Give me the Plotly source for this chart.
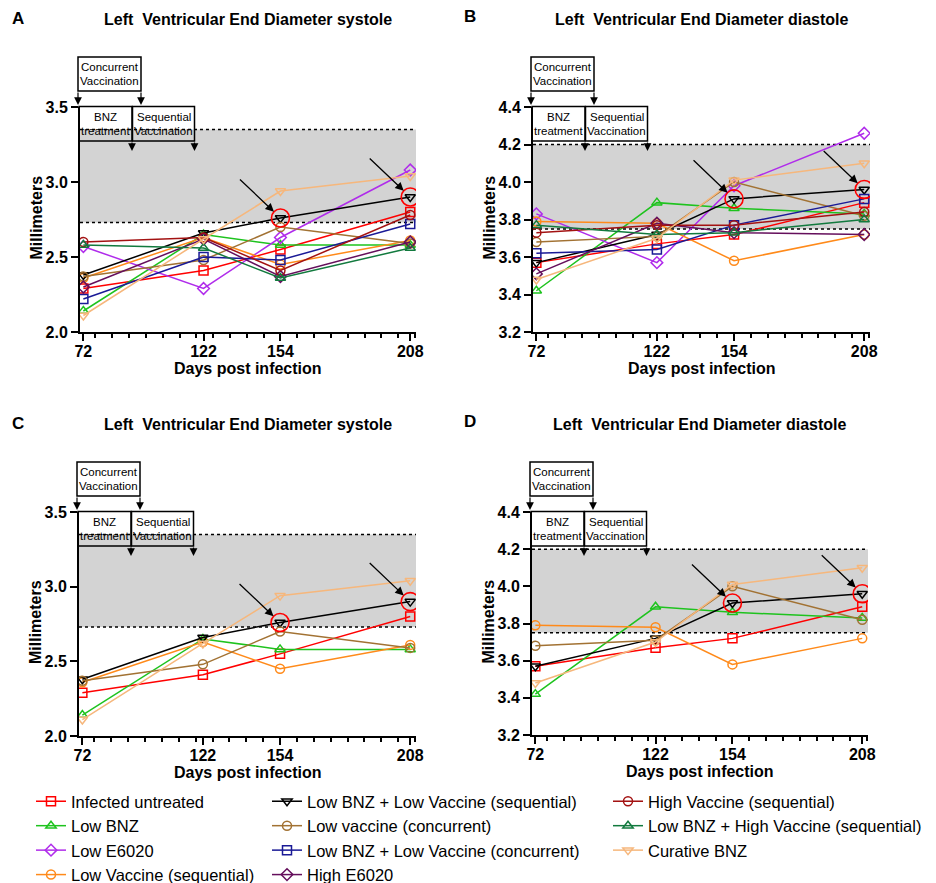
import plotly.graph_objects as go

# ---------------- data ----------------
days = [72, 122, 154, 208]
day_labels = ["72", "122", "154", "208"]

groups = ["Infected untreated", "Low BNZ", "Low E6020", "Low Vaccine (sequential)",
          "Low BNZ + Low Vaccine (sequential)", "Low vaccine (concurrent)",
          "Low BNZ + Low Vaccine (concurrent)", "High E6020",
          "High Vaccine (sequential)", "Low BNZ + High Vaccine (sequential)", "Curative BNZ"]

# Left ventricular end diameter, systole (mm)
sys_infected = [2.29, 2.41, 2.55, 2.80]
sys_low_bnz = [2.14, 2.65, 2.58, 2.58]
sys_low_e6020 = [2.57, 2.29, 2.63, 3.08]
sys_low_vac_seq = [2.36, 2.63, 2.45, 2.61]
sys_bnz_lowvac_seq = [2.38, 2.66, 2.76, 2.90]
sys_low_vac_conc = [2.37, 2.48, 2.70, 2.59]
sys_bnz_lowvac_conc = [2.22, 2.50, 2.48, 2.72]
sys_high_e6020 = [2.30, 2.62, 2.37, 2.60]
sys_high_vac_seq = [2.60, 2.63, 2.41, 2.78]
sys_bnz_highvac_seq = [2.58, 2.56, 2.36, 2.56]
sys_curative = [2.11, 2.62, 2.94, 3.04]

# Left ventricular end diameter, diastole (mm)
dia_infected = [3.57, 3.67, 3.72, 3.89]
dia_low_bnz = [3.42, 3.89, 3.86, 3.83]
dia_low_e6020 = [3.83, 3.57, 3.98, 4.26]
dia_low_vac_seq = [3.79, 3.78, 3.58, 3.72]
dia_bnz_lowvac_seq = [3.57, 3.72, 3.91, 3.96]
dia_low_vac_conc = [3.68, 3.71, 4.00, 3.82]
dia_bnz_lowvac_conc = [3.62, 3.64, 3.77, 3.91]
dia_high_e6020 = [3.51, 3.78, 3.73, 3.72]
dia_high_vac_seq = [3.73, 3.77, 3.77, 3.84]
dia_bnz_highvac_seq = [3.77, 3.72, 3.73, 3.80]
dia_curative = [3.48, 3.70, 4.01, 4.10]

sys_normal = [2.73, 3.35]
dia_normal = [3.75, 4.20]

sys_ticks = [2.0, 2.5, 3.0, 3.5]
dia_ticks = [3.2, 3.4, 3.6, 3.8, 4.0, 4.2, 4.4]

systole = [sys_infected, sys_low_bnz, sys_low_e6020, sys_low_vac_seq, sys_bnz_lowvac_seq,
           sys_low_vac_conc, sys_bnz_lowvac_conc, sys_high_e6020, sys_high_vac_seq,
           sys_bnz_highvac_seq, sys_curative]
diastole = [dia_infected, dia_low_bnz, dia_low_e6020, dia_low_vac_seq, dia_bnz_lowvac_seq,
            dia_low_vac_conc, dia_bnz_lowvac_conc, dia_high_e6020, dia_high_vac_seq,
            dia_bnz_highvac_seq, dia_curative]

subset = [0, 1, 3, 4, 5, 10]      # groups shown in panels C and D
highlight_group = 4               # circled group
highlight_idx = [2, 3]            # circled time points

# ---------------- style ----------------
colors = ["#FF0000", "#1EC31E", "#B02CEB", "#FF8A1A", "#000000", "#A27233",
          "#1A1A96", "#650F5C", "#A31212", "#127A3E", "#F6B77C"]
symbols = ["square-open", "triangle-up-open", "diamond-open", "circle-open",
           "triangle-down-open", "circle-open", "square-open", "diamond-open",
           "circle-open", "triangle-up-open", "triangle-down-open"]
legend_col = ["legend"] * 4 + ["legend2"] * 4 + ["legend3"] * 3

# page body keeps an 8px margin, so the figure is drawn 8px in from the window edge
OFF = 8
W, H = 936 - OFF, 883 - OFF
FONT = "Liberation Sans, Arial, sans-serif"


def px(x):
    return (x - OFF) / W


def py(y):
    return 1 - (y - OFF) / H


def label(x, y, text, size, bold=False, family=FONT, angle=0):
    return dict(x=px(x), y=py(y), xref="paper", yref="paper", text=text, showarrow=False,
                xanchor="center", yanchor="middle", textangle=angle,
                font=dict(family=family, size=size, color="black",
                          weight="bold" if bold else "normal"))


panels = [
    dict(letter="A", L=80, R=416, T=107, B=332, title="Left\u00a0 Ventricular End Diameter systole",
         data=systole, groups=list(range(11)), rng=[2.0, 3.5], ticks=sys_ticks, band=sys_normal,
         letter_xy=(18, 18), title_y=20),
    dict(letter="B", L=533, R=870, T=107, B=332, title="Left\u00a0 Ventricular End Diameter diastole",
         data=diastole, groups=list(range(11)), rng=[3.2, 4.4], ticks=dia_ticks, band=dia_normal,
         letter_xy=(470, 17), title_y=20),
    dict(letter="C", L=79, R=416, T=512, B=736, title="Left\u00a0 Ventricular End Diameter systole",
         data=systole, groups=subset, rng=[2.0, 3.5], ticks=sys_ticks, band=sys_normal,
         letter_xy=(18, 423), title_y=424),
    dict(letter="D", L=532, R=868, T=512, B=735, title="Left\u00a0 Ventricular End Diameter diastole",
         data=diastole, groups=subset, rng=[3.2, 4.4], ticks=dia_ticks, band=dia_normal,
         letter_xy=(470, 422), title_y=424),
]

fig = go.Figure()
annotations = []
shapes = []

for p_i, p in enumerate(panels):
    n = "" if p_i == 0 else str(p_i + 1)
    xa, ya = "x" + n, "y" + n
    # traces
    for g in p["groups"]:
        fig.add_trace(go.Scatter(
            x=days, y=p["data"][g], name=groups[g], mode="lines+markers",
            xaxis=xa, yaxis=ya,
            line=dict(color=colors[g], width=1.5),
            marker=dict(symbol=symbols[g], size=9, color=colors[g], line=dict(width=1.5)),
            showlegend=(p_i == 0), legend=legend_col[g], legendrank=g,
            hoverinfo="skip"))
    hv = p["data"][highlight_group]
    fig.add_trace(go.Scatter(
        x=[days[i] for i in highlight_idx], y=[hv[i] for i in highlight_idx],
        mode="markers", xaxis=xa, yaxis=ya, showlegend=False, hoverinfo="skip",
        marker=dict(symbol="circle-open", size=18, color="#FF0000", line=dict(width=1.6))))
    for i in highlight_idx:
        annotations.append(dict(x=days[i], y=hv[i], xref=xa, yref=ya, text="", showarrow=True,
                                ax=-42, ay=-40, arrowhead=2, arrowsize=1.3, arrowwidth=1.3,
                                arrowcolor="black", standoff=9))

    # axes
    axis_common = dict(showline=True, linecolor="black", linewidth=2, ticks="outside",
                       tickcolor="black", tickwidth=2, ticklen=7, showgrid=False, zeroline=False,
                       tickfont=dict(family=FONT, size=16, color="black", weight="bold"))
    fig.layout["xaxis" + n] = dict(
        domain=[px(p["L"]), px(p["R"])], range=[70.6, 210.4], anchor=ya,
        tickmode="array", tickvals=days, ticktext=day_labels, ticklabelstandoff=-3,
        minor=dict(tickmode="linear", tick0=70, dtick=7, ticks="outside", ticklen=4,
                   tickwidth=1.5, tickcolor="black"),
        **axis_common)
    fig.layout["yaxis" + n] = dict(
        domain=[py(p["B"]), py(p["T"])], range=p["rng"], anchor=xa,
        tickmode="array", tickvals=p["ticks"], tickformat=".1f",
        **axis_common)

    # normal range band
    shapes.append(dict(type="rect", xref=xa + " domain", yref=ya, x0=0, x1=1,
                       y0=p["band"][0], y1=p["band"][1], fillcolor="#D3D3D3",
                       line=dict(width=0), layer="below"))
    for yv in p["band"]:
        shapes.append(dict(type="line", xref=xa + " domain", yref=ya, x0=0, x1=1,
                           y0=yv, y1=yv, line=dict(color="black", width=1.5, dash="dot"),
                           layer="below"))

    # panel letter, title, axis titles
    L, R, T, B = p["L"], p["R"], p["T"], p["B"]
    annotations.append(label(p["letter_xy"][0], p["letter_xy"][1], p["letter"], 17, bold=True))
    annotations.append(label((L + R) / 2, p["title_y"], p["title"], 16, bold=True))
    annotations.append(label((L + R) / 2, B + 36, "Days post infection", 16, bold=True))
    annotations.append(label(L - 44, (T + B) / 2 - 2, "Millimeters", 16, bold=True, angle=-90))

    # treatment timeline boxes
    boxes = [(-2, 61, -50, -16, ["Concurrent", "Vaccination"]),
             (-1, 52, -0.5, 34, ["BNZ", "treatment"]),
             (52.5, 114.5, -0.5, 34, ["Sequential", "Vaccination"])]
    for x0, x1, y0, y1, lines in boxes:
        shapes.append(dict(type="rect", xref="paper", yref="paper",
                           x0=px(L + x0), x1=px(L + x1), y0=py(T + y0), y1=py(T + y1),
                           line=dict(color="black", width=1.5), fillcolor="rgba(0,0,0,0)",
                           layer="above"))
        cy = T + (y0 + y1) / 2
        for k, txt in enumerate(lines):
            annotations.append(label(L + (x0 + x1) / 2, cy - 7 + 14 * k, txt, 11.5))
    for ax_, tip_y, length in [(-2, -2, 14), (61, -2, 14), (52, 44, 10), (114.5, 44, 10)]:
        annotations.append(dict(x=px(L + ax_), y=py(T + tip_y), xref="paper", yref="paper",
                                text="", showarrow=True, ax=0, ay=-length, arrowhead=2,
                                arrowsize=1.3, arrowwidth=1.2, arrowcolor="black", standoff=0))

legend_style = dict(bgcolor="rgba(0,0,0,0)", borderwidth=0, orientation="v",
                    font=dict(family=FONT, size=16.5, color="black"),
                    xanchor="left", yanchor="top", traceorder="normal")
fig.update_layout(
    width=W, height=H, margin=dict(l=0, r=0, t=0, b=0, autoexpand=False),
    paper_bgcolor="white", plot_bgcolor="white",
    annotations=annotations, shapes=shapes,
    legend=dict(x=px(31), y=py(784), **legend_style),
    legend2=dict(x=px(267), y=py(784), **legend_style),
    legend3=dict(x=px(608), y=py(784), **legend_style),
    hovermode=False,
)

fig.write_html("out.html")
